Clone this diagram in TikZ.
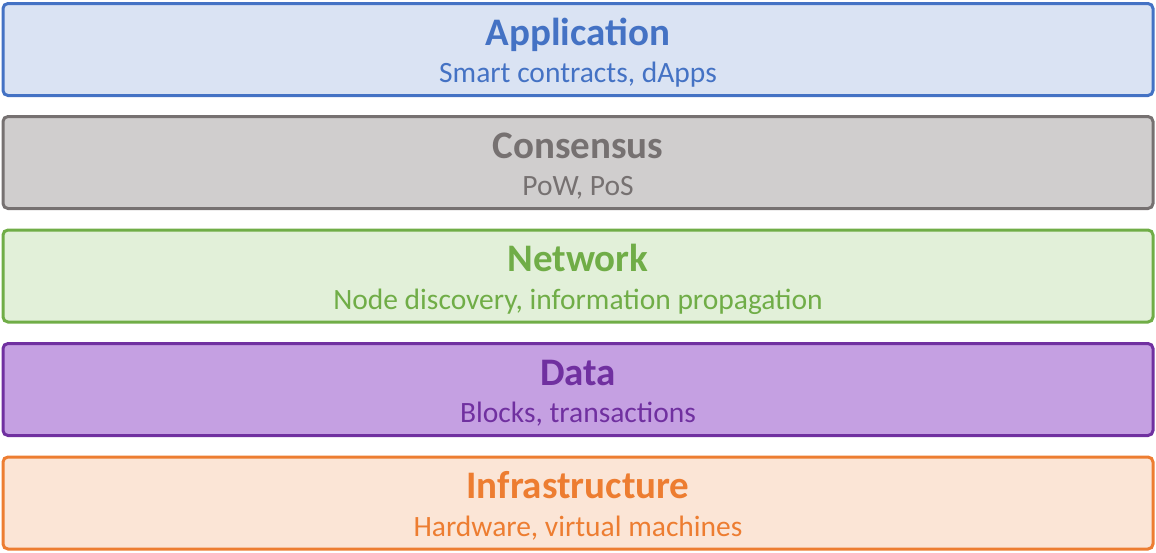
\documentclass[tikz,border=0pt]{standalone}
\usepackage{fontspec}
\setmainfont{Carlito}
\definecolor{appB}{HTML}{4472C4}\definecolor{appF}{HTML}{DAE3F3}
\definecolor{conB}{HTML}{767171}\definecolor{conF}{HTML}{D0CECE}
\definecolor{netB}{HTML}{70AD47}\definecolor{netF}{HTML}{E2F0D9}
\definecolor{datB}{HTML}{7030A0}\definecolor{datF}{HTML}{C5A0E2}
\definecolor{infB}{HTML}{ED7D31}\definecolor{infF}{HTML}{FBE5D6}
\tikzset{
  layer/.style={draw, line width=3pt, rounded corners=5pt, minimum width=1150pt, minimum height=92pt, inner sep=0pt, outer sep=0pt, anchor=north west},
  ttl/.style={anchor=base, font=\fontsize{39}{40}\selectfont\bfseries},
  sub/.style={anchor=base, font=\fontsize{29.5}{30}\selectfont}
}
\begin{document}
\begin{tikzpicture}[x=1pt,y=-1pt]
\useasboundingbox (0,0) rectangle (1156,552);
\node[layer, draw=appB, fill=appF] (app) at (3,3.5) {};
\node[layer, draw=conB, fill=conF] (con) at (3,116.5) {};
\node[layer, draw=netB, fill=netF] (net) at (3,230) {};
\node[layer, draw=datB, fill=datF] (dat) at (3,343.5) {};
\node[layer, draw=infB, fill=infF] (inf) at (3,457) {};
\foreach \n/\c/\t/\s in {app/appB/Application/{Smart contracts, dApps},
  con/conB/Consensus/{PoW, PoS},
  net/netB/Network/{Node discovery, information propagation},
  dat/datB/Data/{Blocks, transactions},
  inf/infB/Infrastructure/{Hardware, virtual machines}}{
  \node[ttl, text=\c] (\n-t) at ([yshift=-41.5pt]\n.north) {\t};
  \node[sub, text=\c] (\n-s) at ([yshift=-79pt]\n.north) {\s};
}
\end{tikzpicture}
\end{document}
